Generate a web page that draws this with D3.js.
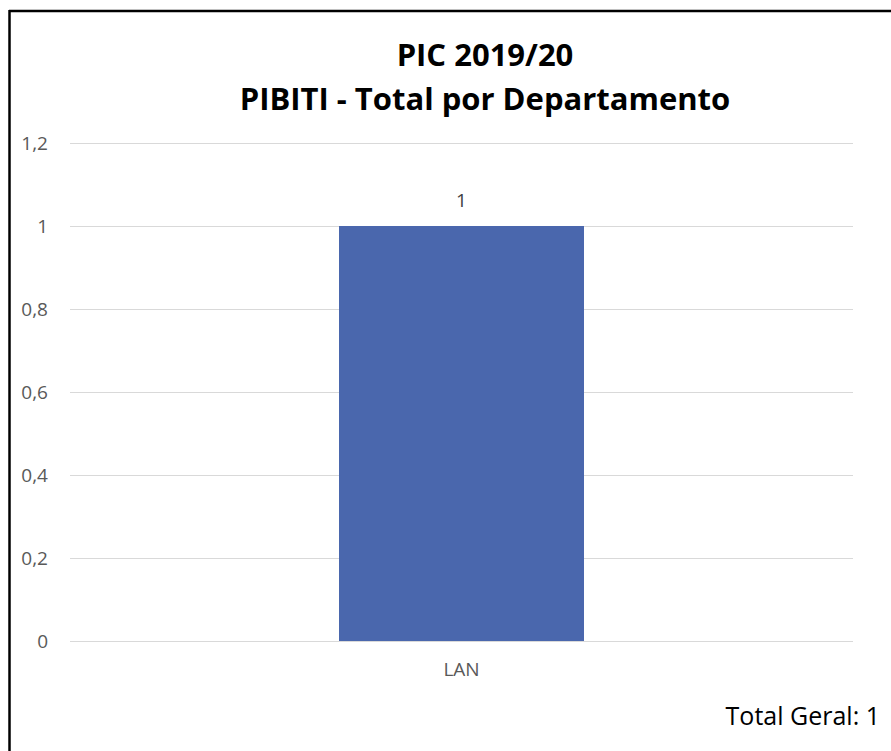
<!DOCTYPE html>
<html><head><meta charset="utf-8">
<script src="https://cdn.jsdelivr.net/npm/d3@7"></script>
<style>body{margin:0;background:#fff}svg{display:block}</style>
</head><body>
<script>
const categories = ["LAN"];
const values = [1];
const yTicks = [0, 0.2, 0.4, 0.6, 0.8, 1, 1.2];
const titleLines = ["PIC 2019/20", "PIBITI - Total por Departamento"];
const totalText = "Total Geral: 1";

const W = 891, H = 751;
const font = "'Open Sans', 'Noto Sans', sans-serif";
const svg = d3.select("body").append("svg").attr("width", W).attr("height", H);
svg.append("rect").attr("width", W).attr("height", H).attr("fill", "#fff");
// frame
svg.append("line").attr("x1", 9).attr("x2", W).attr("y1", 11).attr("y2", 11).attr("stroke", "#000").attr("stroke-width", 2.5);
svg.append("line").attr("x1", 9.5).attr("x2", 9.5).attr("y1", 10).attr("y2", H).attr("stroke", "#000").attr("stroke-width", 2.5);

const x = d3.scaleBand().domain(categories).range([70, 853]).paddingInner(0.5).paddingOuter(0.34);
const y = d3.scaleLinear().domain([0, 1.2]).range([641, 143]);

const fmt = v => String(+v.toFixed(1)).replace(".", ",");

const ya = svg.append("g").attr("transform", "translate(70,0)")
  .call(d3.axisLeft(y).tickValues(yTicks).tickSize(-783).tickFormat(fmt).tickPadding(22));
ya.select(".domain").remove();
ya.selectAll(".tick line").attr("stroke", "#d9d9d9").attr("stroke-width", 1);
ya.selectAll(".tick text").attr("fill", "#595959").style("font-family", font).style("font-size", "19px");

const bw = 245;
svg.selectAll("rect.bar").data(values).join("rect").attr("class", "bar")
  .attr("x", (d, i) => x(categories[i]) + x.bandwidth() / 2 - bw / 2)
  .attr("width", bw)
  .attr("y", d => y(d)).attr("height", d => y(0) - y(d))
  .attr("fill", "#4a67ad");

svg.selectAll("text.val").data(values).join("text").attr("class", "val")
  .attr("x", (d, i) => x(categories[i]) + x.bandwidth() / 2)
  .attr("y", d => y(d) - 19)
  .attr("text-anchor", "middle").attr("fill", "#404040")
  .style("font-family", font).style("font-size", "19px").text(d => d);

const xa = svg.append("g").attr("transform", "translate(0,641)")
  .call(d3.axisBottom(x).tickSize(0).tickPadding(22));
xa.select(".domain").remove();
xa.selectAll(".tick text").attr("fill", "#595959").style("font-family", font).style("font-size", "19px");

svg.selectAll("text.title").data(titleLines).join("text").attr("class", "title")
  .attr("x", 485).attr("y", (d, i) => 66 + i * 44)
  .attr("text-anchor", "middle").attr("fill", "#000").attr("font-weight", "bold")
  .style("font-family", font).style("font-size", "31px").text(d => d);

svg.append("text").attr("x", 880).attr("y", 725).attr("text-anchor", "end")
  .attr("fill", "#000").style("font-family", font).style("font-size", "25px").text(totalText);
</script>
</body></html>
